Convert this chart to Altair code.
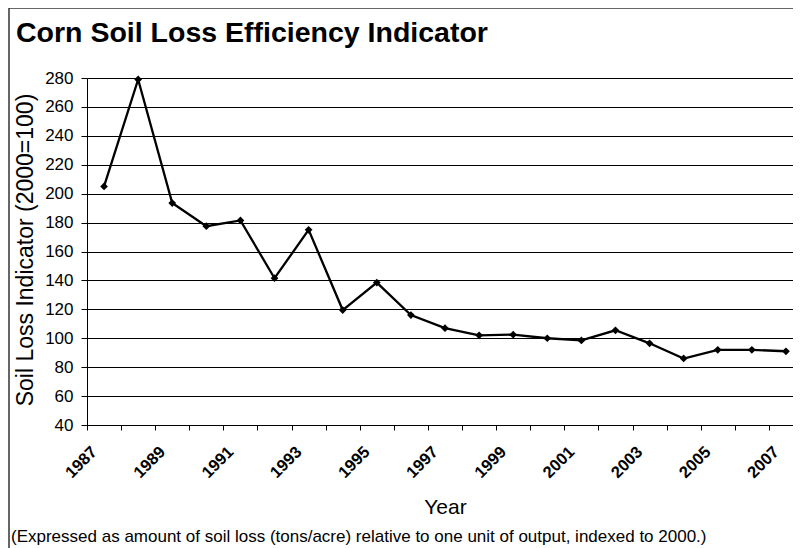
import altair as alt
import pandas as pd

years = list(range(1987, 2008))
values = [205, 279, 193.5, 177.5, 181.5, 141.5, 175, 119.5, 138.5, 116,
          107, 102, 102.5, 100, 98.5, 105.5, 96.5, 86, 92, 92, 91]
y_ticks = list(range(40, 281, 20))

title_text = "Corn Soil Loss Efficiency Indicator"
y_title = "Soil Loss Indicator (2000=100)"
x_title = "Year"
note_text = "(Expressed as amount of soil loss (tons/acre) relative to one unit of output, indexed to 2000.)"

df = pd.DataFrame({"year": years, "value": values})
one = pd.DataFrame({"k": [0]})

FONT = "Liberation Sans"
W, H = 706, 347          # visible plot width (plot continues past the page edge)
FULL_W = 716             # full category axis length
PAD_TOP, PAD_LEFT = 70, 79
PAD_BOTTOM = 540 - PAD_TOP - H

x_enc = alt.X(
    "year:O",
    scale=alt.Scale(paddingInner=0, paddingOuter=0, range=[0, FULL_W]),
    axis=alt.Axis(
        title=x_title,
        tickBand="extent",
        labelExpr="datum.value % 2 == 1 ? datum.label : ''",
        labelOverlap=False,
        labelAngle=-45,
        labelAlign="right",
        labelBaseline="middle",
        labelOffset=-10,
        labelPadding=19,
        labelFont=FONT,
        labelFontSize=16.5,
        labelFontWeight="bold",
        labelColor="black",
        tickSize=5,
        tickColor="black",
        domainColor="black",
        grid=False,
        titleFont=FONT,
        titleFontSize=21,
        titleFontWeight="normal",
        titleColor="black",
        titleBaseline="alphabetic",
        titleX=FULL_W / 2,
        titleY=88,
    ),
)

y_enc = alt.Y(
    "value:Q",
    scale=alt.Scale(domain=[40, 280], nice=False, zero=False),
    axis=alt.Axis(
        title=y_title,
        values=y_ticks,
        grid=True,
        gridColor="black",
        gridWidth=1,
        tickSize=6,
        tickColor="black",
        domainColor="black",
        labelFont=FONT,
        labelFontSize=17,
        labelColor="black",
        labelPadding=8,
        titleFont=FONT,
        titleFontSize=23,
        titleFontWeight="normal",
        titleColor="black",
        titleAngle=-90,
        titleBaseline="alphabetic",
        titleAlign="center",
        titleX=-55,
        titleY=H / 2 - 2,
    ),
)

base = alt.Chart(df).encode(x=x_enc, y=y_enc)
line = base.mark_line(color="black", strokeWidth=2.3)
pts = base.mark_point(shape="diamond", filled=True, size=60, color="black", opacity=1)

title = alt.Chart(one).mark_text(
    align="left", baseline="alphabetic", font=FONT, fontSize=28.5,
    fontWeight="bold", color="black"
).encode(x=alt.value(-71), y=alt.value(-36), text=alt.value(title_text))

note = alt.Chart(one).mark_text(
    align="left", baseline="alphabetic", font=FONT, fontSize=17, color="black"
).encode(x=alt.value(-76), y=alt.value(464), text=alt.value(note_text))

border_left = alt.Chart(one).mark_rule(color="#333333", strokeWidth=1.5).encode(
    x=alt.value(-78), y=alt.value(-70), y2=alt.value(H + PAD_BOTTOM))
border_top = alt.Chart(one).mark_rule(color="#333333", strokeWidth=1.5).encode(
    x=alt.value(-78), x2=alt.value(FULL_W), y=alt.value(-70))

chart = alt.layer(line, pts, title, note, border_left, border_top).properties(
    width=W, height=H,
    autosize=alt.AutoSizeParams(type="none"),
    padding={"left": PAD_LEFT, "top": PAD_TOP, "right": 0, "bottom": PAD_BOTTOM},
    background="white",
).configure_view(strokeOpacity=0)

chart.save("out.html", embed_options={"renderer": "svg", "actions": False})
